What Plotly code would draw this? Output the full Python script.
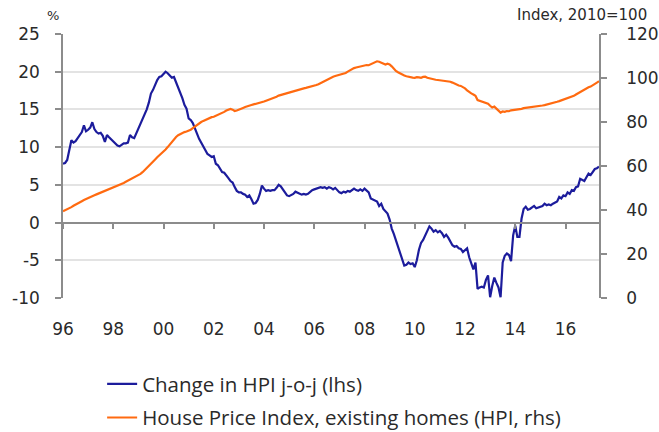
import plotly.graph_objects as go

# ---------------- data (monthly, Jan 1996 .. May 2017) ----------------
start_year = 1996
hpi_change = [
    # 1996
    7.8, 7.9, 8.3, 9.6, 10.9, 10.6, 10.8, 11.2, 11.6, 12.0, 12.9, 12.1,
    # 1997
    12.3, 12.6, 13.3, 12.4, 12.0, 11.8, 11.9, 11.5, 10.7, 11.6, 11.3, 11.0,
    # 1998
    10.7, 10.4, 10.2, 10.1, 10.3, 10.5, 10.5, 10.6, 11.6, 11.3, 11.2, 11.8,
    # 1999
    12.4, 13.1, 13.6, 14.2, 15.0, 15.9, 17.1, 17.6, 18.4, 18.9, 19.3, 19.4,
    # 2000
    19.7, 20.0, 19.8, 19.5, 19.2, 19.3, 18.6, 18.0, 17.2, 16.5, 15.6, 15.1,
    # 2001
    13.8, 13.6, 13.2, 12.6, 11.8, 11.1, 10.6, 10.2, 9.8, 9.1, 8.9, 8.7,
    # 2002
    8.8, 7.8, 7.6, 7.2, 6.7, 6.6, 6.3, 5.9, 5.5, 5.3, 4.7, 4.2,
    # 2003
    4.0, 4.0, 3.8, 3.7, 3.4, 3.6, 3.1, 2.5, 2.6, 3.0, 3.8, 4.9,
    # 2004
    4.5, 4.2, 4.3, 4.2, 4.3, 4.3, 4.6, 5.0, 4.8, 4.4, 4.1, 3.6,
    # 2005
    3.5, 3.6, 3.8, 4.1, 4.0, 3.9, 3.7, 3.8, 3.7, 3.8, 4.1, 4.3,
    # 2006
    4.4, 4.5, 4.6, 4.7, 4.6, 4.7, 4.5, 4.7, 4.6, 4.4, 4.6, 4.3,
    # 2007
    4.0, 3.9, 4.1, 4.0, 4.2, 4.1, 4.3, 4.5, 4.3, 4.2, 4.4, 4.2,
    # 2008
    4.5, 4.3, 4.0, 3.2, 3.1, 2.9, 2.8, 2.2, 2.5, 1.8, 1.5, 1.2,
    # 2009
    0.4, -0.8, -1.5, -2.4, -3.3, -4.0, -4.8, -5.7, -5.6, -5.3, -5.5, -5.4,
    # 2010
    -5.9, -5.0, -3.6, -2.7, -2.3, -1.7, -1.0, -0.5, -0.8, -1.2, -1.0, -1.3,
    # 2011
    -1.1, -1.4, -1.9, -1.6, -2.0, -2.6, -3.0, -3.2, -3.1, -3.4, -3.5, -3.9,
    # 2012
    -3.6, -3.4, -4.6, -5.5, -6.2, -5.3, -8.8, -8.6, -8.5, -8.6, -7.6, -7.0,
    # 2013
    -9.9, -8.4, -7.3, -8.0, -8.6, -9.9, -5.3, -4.4, -4.1, -4.3, -5.1, -1.7,
    # 2014
    -0.4, -1.9, -1.9, 0.5, 1.8, 2.1, 1.7, 1.8, 2.0, 2.2, 1.9, 2.0,
    # 2015
    2.0, 2.2, 2.5, 2.3, 2.4, 2.3, 2.5, 2.7, 2.8, 3.4, 3.2, 3.6,
    # 2016
    3.5, 4.0, 3.8, 4.3, 4.2, 4.7, 4.8, 5.8, 5.6, 5.5, 6.0, 6.5,
    # 2017
    6.3, 6.7, 7.1, 7.2, 7.4,
]

hpi_index = [
    # 1996
    39.4, 39.8, 40.3, 40.8, 41.3, 41.9, 42.5, 43.0, 43.4, 44.0, 44.5, 45.0,
    # 1997
    45.5, 46.0, 46.3, 46.7, 47.1, 47.5, 47.8, 48.1, 48.4, 48.8, 49.2, 49.6,
    # 1998
    50.0, 50.4, 50.8, 51.2, 51.7, 52.3, 52.8, 53.3, 53.8, 54.3, 54.8, 55.2,
    # 1999
    55.6, 56.4, 57.2, 58.1, 59.0, 60.0, 61.0, 62.0, 63.0, 64.0, 64.8, 65.6,
    # 2000
    66.5, 67.5, 68.6, 69.8, 71.0, 72.1, 73.2, 74.0, 74.6, 75.0, 75.4, 75.7,
    # 2001
    76.0, 76.5, 77.2, 78.0, 78.8, 79.5, 80.0, 80.5, 81.0, 81.4, 81.8, 82.2,
    # 2002
    82.4, 82.8, 83.2, 83.6, 84.1, 84.6, 85.2, 85.7, 85.9, 85.6, 85.0, 85.2,
    # 2003
    85.5, 86.0, 86.4, 86.8, 87.2, 87.5, 87.7, 88.0, 88.2, 88.5, 88.8, 89.0,
    # 2004
    89.3, 89.7, 90.0, 90.4, 90.8, 91.1, 91.5, 92.0, 92.3, 92.5, 92.8, 93.2,
    # 2005
    93.5, 93.8, 94.1, 94.3, 94.6, 94.9, 95.1, 95.3, 95.5, 95.7, 95.9, 96.2,
    # 2006
    96.4, 96.8, 97.2, 97.7, 98.2, 98.8, 99.4, 99.9, 100.3, 100.6, 100.9, 101.2,
    # 2007
    101.4, 101.6, 101.8, 102.3, 102.9, 103.5, 104.1, 104.5, 104.8, 105.0, 105.3, 105.6,
    # 2008
    105.8, 105.9, 105.8, 106.2, 106.8, 107.3, 107.6, 107.4, 107.0, 106.4, 106.1, 106.5,
    # 2009
    106.2, 105.3, 104.2, 103.2, 102.6, 102.0, 101.5, 101.1, 100.8, 100.5, 100.3, 100.2,
    # 2010
    100.1, 100.4, 100.3, 100.1, 100.5, 100.6, 100.1, 99.8, 99.6, 99.4, 99.2, 99.1,
    # 2011
    99.0, 98.9, 98.7, 98.6, 98.5, 98.3, 97.9, 97.4, 97.0, 96.6, 96.4, 96.0,
    # 2012
    95.3, 94.4, 93.6, 93.0, 92.5, 91.9, 90.0, 89.6, 89.4, 89.0, 88.6, 88.3,
    # 2013
    87.4, 86.6, 87.0, 86.1, 85.4, 84.3, 84.8, 84.6, 85.0, 84.9, 85.3, 85.4,
    # 2014
    85.5, 85.6, 85.8, 86.0, 86.3, 86.4, 86.5, 86.6, 86.7, 86.9, 87.1, 87.3,
    # 2015
    87.4, 87.5, 87.7, 87.9, 88.1, 88.4, 88.6, 88.9, 89.2, 89.5, 89.8, 90.1,
    # 2016
    90.4, 90.7, 91.0, 91.4, 91.9, 92.5, 93.1, 93.5, 94.0, 94.6, 95.3, 95.8,
    # 2017
    96.1, 96.6, 97.2, 97.9, 98.5,
]

x_tick_years = [1996, 1998, 2000, 2002, 2004, 2006, 2008, 2010, 2012, 2014, 2016]
x_tick_labels = ["96", "98", "00", "02", "04", "06", "08", "10", "12", "14", "16"]
left_ticks = [-10, -5, 0, 5, 10, 15, 20, 25]
left_tick_labels = ["-10", "-5", "0", "5", "10", "15", "20", "25"]
right_ticks = [0, 20, 40, 60, 80, 100, 120]

series_names = ["Change in HPI j-o-j (lhs)", "House Price Index, existing homes (HPI, rhs)"]

# time axis as decimal years
months = [start_year + i / 12 for i in range(len(hpi_change))]
x_range = [start_year, months[-1]]
left_range = [-10, 25]
right_range = [0, 120]

BLUE = "#1c1c9c"
ORANGE = "#ff6a10"
GRID = "#e3e3e3"
AXIS = "#8c8c8c"
TXT = "#2a2a2a"
FONT = "DejaVu Sans"
LEG_FONT = "Open Sans"

fig = go.Figure()
fig.add_trace(go.Scatter(x=months, y=hpi_change, name=series_names[0], mode="lines",
                         legendgroup="a",
                         line=dict(color=BLUE, width=2.2), xaxis="x", yaxis="y"))
fig.add_trace(go.Scatter(x=months, y=hpi_index, name=series_names[1], mode="lines",
                         legendgroup="b",
                         line=dict(color=ORANGE, width=2.2), xaxis="x", yaxis="y2"))
# helper (invisible) trace so the zero-line x axis is drawn
fig.add_trace(go.Scatter(x=[months[0]], y=[None], xaxis="x2", yaxis="y",
                         showlegend=False, hoverinfo="skip", mode="lines"))

zero_pos = (0 - left_range[0]) / (left_range[1] - left_range[0])

fig.update_layout(
    width=659, height=432,
    margin=dict(l=63, r=60, t=34, b=134, autoexpand=False),
    paper_bgcolor="white", plot_bgcolor="white",
    font=dict(family=FONT, color=TXT),
    showlegend=True,
    legend=dict(x=0.073, y=-0.25, xanchor="left", yanchor="top",
                font=dict(size=20.5, color=TXT, family=LEG_FONT),
                traceorder="grouped", tracegroupgap=4,
                bgcolor="rgba(0,0,0,0)"),
    xaxis=dict(range=x_range, tickvals=x_tick_years, ticktext=x_tick_labels,
               showgrid=False, zeroline=False, showline=False, automargin=False,
               ticks="outside", ticklen=16, tickcolor="rgba(0,0,0,0)",
               tickfont=dict(size=17, color=TXT), domain=[0, 1]),
    xaxis2=dict(range=x_range, overlaying="x", anchor="free", position=zero_pos,
                tickvals=x_tick_years, showticklabels=False, automargin=False,
                showgrid=False, zeroline=False, showline=True, linecolor=AXIS,
                linewidth=1.5, ticks="outside", ticklen=6, tickcolor=AXIS, tickwidth=1.5),
    yaxis=dict(range=left_range, tickvals=left_ticks, ticktext=left_tick_labels,
               showgrid=True, gridcolor=GRID, automargin=False,
               gridwidth=1.5, zeroline=False, showline=True, linecolor=AXIS, linewidth=1.5,
               ticks="outside", ticklen=6, tickcolor=AXIS, tickwidth=1.5,
               tickfont=dict(size=17, color=TXT), ticklabelstandoff=12, domain=[0, 1]),
    yaxis2=dict(range=right_range, tickvals=right_ticks, overlaying="y", side="right",
                showgrid=False, zeroline=False, showline=True, linecolor=AXIS, linewidth=1.5,
                automargin=False,
                ticks="outside", ticklen=6, tickcolor=AXIS, tickwidth=1.5,
                tickfont=dict(size=17, color=TXT), ticklabelstandoff=16),
    annotations=[
        dict(text="%", xref="paper", yref="paper", x=-0.019, y=1.0, yshift=9,
             xanchor="center", yanchor="bottom", showarrow=False,
             font=dict(size=13, color=TXT)),
        dict(text="Index, 2010=100", xref="paper", yref="paper", x=1.0914, y=1.0, yshift=29,
             xanchor="right", yanchor="top", showarrow=False, borderpad=0,
             font=dict(size=15, color=TXT)),
    ],
)

# remove the default page margin so the figure sits exactly in the window
fig.write_html("out.html",
               config={"displayModeBar": False},
               post_script="document.body.style.margin='0';document.body.style.overflow='hidden';")
